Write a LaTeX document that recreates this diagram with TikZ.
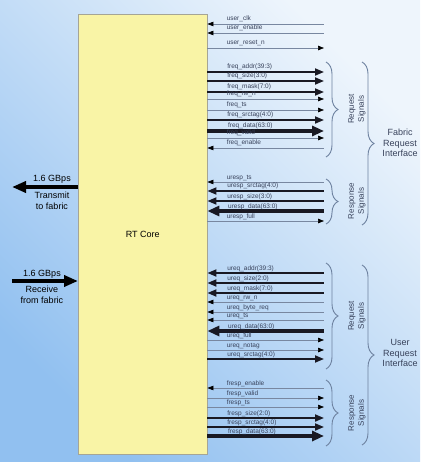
\documentclass[tikz,border=0pt]{standalone}
\usepackage{fontspec}
\setmainfont{Liberation Sans}
\usetikzlibrary{arrows.meta,decorations.pathreplacing}

\begin{document}
\begin{tikzpicture}[x=1pt,y=-1pt,
    lab/.style={font=\fontsize{6.5}{7}\selectfont, text=labtext, anchor=base west, inner sep=0pt, xshift=19pt, yshift=3pt},
    linein/.style={draw=sigcol, line width=0.7pt, {Triangle[length=6pt,width=4.5pt,color=black]}-},
    lineout/.style={draw=sigcol, line width=0.7pt, -{Triangle[length=6pt,width=4.5pt,color=black]}},
    busin/.style={draw=buscol, line width=1.8pt, {Triangle[length=9pt,width=7pt]}-},
    busout/.style={draw=buscol, line width=1.8pt, -{Triangle[length=9pt,width=7pt]}},
    widein/.style={draw=buscol, line width=3.5pt, {Triangle[length=12pt,width=10pt]}-},
    wideout/.style={draw=buscol, line width=3.5pt, -{Triangle[length=12pt,width=10pt]}},
    bigarrow/.style={draw=black, line width=4pt, -{Triangle[length=14pt,width=11pt]}},
    grp/.style={draw=bracecol, line width=0.9pt, decorate, decoration={brace, amplitude=12pt}},
    grplab/.style={font=\fontsize{8}{10}\selectfont, text=labtext, align=center, rotate=90},
    ifclab/.style={font=\fontsize{9}{10.5}\selectfont, text=labtext, align=center},
    sidelab/.style={font=\fontsize{9}{10.5}\selectfont, align=center, inner sep=0pt}]
        \definecolor{corefill}{RGB}{249,244,166}
        \definecolor{coreline}{RGB}{165,165,150}
        \definecolor{sigcol}{RGB}{120,135,160}
        \definecolor{buscol}{RGB}{25,25,35}
        \definecolor{labtext}{RGB}{55,65,90}
        \definecolor{bracecol}{RGB}{110,130,160}
        \definecolor{bgtop}{RGB}{238,245,252}
        \definecolor{bgmid}{RGB}{170,206,243}
        \definecolor{bgbot}{RGB}{145,192,240}

        % Background
        \useasboundingbox (0,0) rectangle (420,462);
        \shade[top color=bgtop, middle color=bgmid, bottom color=bgbot, shading angle=-45] (0,0) rectangle (420,462);

        % Core
        \node[draw=coreline, fill=corefill, anchor=north west, minimum width=129pt, minimum height=440pt,
              font=\fontsize{9}{10}\selectfont] (core) at (78,14) {RT Core};

        % Coordinates
        \coordinate (uclk) at (324,24);
        \coordinate (uen) at (324,33);
        \coordinate (urst) at (324,48);
        \coordinate (fqaddr) at (324,72);
        \coordinate (fqsize) at (324,81);
        \coordinate (fqmask) at (324,92);
        \coordinate (fqrw) at (324,99);
        \coordinate (fqts) at (324,110);
        \coordinate (fqtag) at (324,120);
        \coordinate (fqdata) at (324,131);
        \coordinate (fqvalid) at (324,138);
        \coordinate (fqen) at (324,148);
        \coordinate (urts) at (324,182);
        \coordinate (urtag) at (324,191);
        \coordinate (ursize) at (324,201);
        \coordinate (urdata) at (324,211);
        \coordinate (urfull) at (324,221);
        \coordinate (uqaddr) at (324,273);
        \coordinate (uqsize) at (324,283);
        \coordinate (uqmask) at (324,293);
        \coordinate (uqrw) at (324,302);
        \coordinate (uqbyte) at (324,312);
        \coordinate (uqts) at (324,320);
        \coordinate (uqdata) at (324,331);
        \coordinate (uqfull) at (324,340);
        \coordinate (uqnotag) at (324,350);
        \coordinate (uqtag) at (324,359);
        \coordinate (fren) at (324,388);
        \coordinate (frvalid) at (324,398);
        \coordinate (frts) at (324,407);
        \coordinate (frsize) at (324,418);
        \coordinate (frtag) at (324,427);
        \coordinate (frdata) at (324,436);
        \coordinate (tx) at (12,187);
        \coordinate (rx) at (12,281);

        % Signals
        \draw[linein] (core.east |- uclk) -- (uclk) node[lab, pos=0] (l-uclk) {user\_clk};
        \draw[linein] (core.east |- uen) -- (uen) node[lab, pos=0] (l-uen) {user\_enable};
        \draw[lineout] (core.east |- urst) -- (urst) node[lab, pos=0] (l-urst) {user\_reset\_n};

        \draw[busout] (core.east |- fqaddr) -- (fqaddr) node[lab, pos=0] (l-fqaddr) {freq\_addr(39:3)};
        \draw[busout] (core.east |- fqsize) -- (fqsize) node[lab, pos=0] (l-fqsize) {freq\_size(3:0)};
        \draw[busout] (core.east |- fqmask) -- (fqmask) node[lab, pos=0] (l-fqmask) {freq\_mask(7:0)};
        \draw[lineout] (core.east |- fqrw) -- (fqrw) node[lab, pos=0] (l-fqrw) {freq\_rw\_n};
        \draw[lineout] (core.east |- fqts) -- (fqts) node[lab, pos=0] (l-fqts) {freq\_ts};
        \draw[busout] (core.east |- fqtag) -- (fqtag) node[lab, pos=0] (l-fqtag) {freq\_srctag(4:0)};
        \draw[wideout] (core.east |- fqdata) -- (fqdata) node[lab, pos=0] (l-fqdata) {freq\_data(63:0)};
        \draw[lineout] (core.east |- fqvalid) -- (fqvalid) node[lab, pos=0] (l-fqvalid) {freq\_valid};
        \draw[linein] (core.east |- fqen) -- (fqen) node[lab, pos=0] (l-fqen) {freq\_enable};

        \draw[linein] (core.east |- urts) -- (urts) node[lab, pos=0] (l-urts) {uresp\_ts};
        \draw[busin] (core.east |- urtag) -- (urtag) node[lab, pos=0] (l-urtag) {uresp\_srctag(4:0)};
        \draw[busin] (core.east |- ursize) -- (ursize) node[lab, pos=0] (l-ursize) {uresp\_size(3:0)};
        \draw[widein] (core.east |- urdata) -- (urdata) node[lab, pos=0] (l-urdata) {uresp\_data(63:0)};
        \draw[lineout] (core.east |- urfull) -- (urfull) node[lab, pos=0] (l-urfull) {uresp\_full};

        \draw[busin] (core.east |- uqaddr) -- (uqaddr) node[lab, pos=0] (l-uqaddr) {ureq\_addr(39:3)};
        \draw[busin] (core.east |- uqsize) -- (uqsize) node[lab, pos=0] (l-uqsize) {ureq\_size(2:0)};
        \draw[busin] (core.east |- uqmask) -- (uqmask) node[lab, pos=0] (l-uqmask) {ureq\_mask(7:0)};
        \draw[linein] (core.east |- uqrw) -- (uqrw) node[lab, pos=0] (l-uqrw) {ureq\_rw\_n};
        \draw[linein] (core.east |- uqbyte) -- (uqbyte) node[lab, pos=0] (l-uqbyte) {ureq\_byte\_req};
        \draw[linein] (core.east |- uqts) -- (uqts) node[lab, pos=0] (l-uqts) {ureq\_ts};
        \draw[widein] (core.east |- uqdata) -- (uqdata) node[lab, pos=0] (l-uqdata) {ureq\_data(63:0)};
        \draw[lineout] (core.east |- uqfull) -- (uqfull) node[lab, pos=0] (l-uqfull) {ureq\_full};
        \draw[lineout] (core.east |- uqnotag) -- (uqnotag) node[lab, pos=0] (l-uqnotag) {ureq\_notag};
        \draw[busout] (core.east |- uqtag) -- (uqtag) node[lab, pos=0] (l-uqtag) {ureq\_srctag(4:0)};

        \draw[linein] (core.east |- fren) -- (fren) node[lab, pos=0] (l-fren) {fresp\_enable};
        \draw[lineout] (core.east |- frvalid) -- (frvalid) node[lab, pos=0] (l-frvalid) {fresp\_valid};
        \draw[lineout] (core.east |- frts) -- (frts) node[lab, pos=0] (l-frts) {fresp\_ts};
        \draw[busout] (core.east |- frsize) -- (frsize) node[lab, pos=0] (l-frsize) {fresp\_size(2:0)};
        \draw[busout] (core.east |- frtag) -- (frtag) node[lab, pos=0] (l-frtag) {fresp\_srctag(4:0)};
        \draw[wideout] (core.east |- frdata) -- (frdata) node[lab, pos=0] (l-frdata) {fresp\_data(63:0)};

        % Fabric link
        \draw[bigarrow] (core.west |- tx) -- (tx);
        \draw[bigarrow] (rx) -- (core.west |- rx);
        \node[sidelab] (txrate) at (52,179.5) {1.6 GBps};
        \node[sidelab] (txtext) at (52,201) {Transmit\\to fabric};
        \node[sidelab] (rxrate) at (42,274.5) {1.6 GBps};
        \node[sidelab] (rxtext) at (42,295) {Receive\\from fabric};

        % Groups
        \draw[grp] (326,62) -- (326,157);
        \draw[grp] (326,179) -- (326,224);
        \draw[grp] (362,62) -- (362,225);
        \draw[grp] (326,263) -- (326,369);
        \draw[grp] (326,380) -- (326,446);
        \draw[grp] (362,265) -- (362,445);
        \node[grplab] (fqgrp) at (357,109) {Request\\Signals};
        \node[grplab] (urgrp) at (357,201) {Response\\Signals};
        \node[grplab] (uqgrp) at (357,316) {Request\\Signals};
        \node[grplab] (frgrp) at (357,413) {Response\\Signals};
        \node[ifclab] (fabric) at (400,143) {Fabric\\Request\\Interface};
        \node[ifclab] (user) at (400,353) {User\\Request\\Interface};
    \end{tikzpicture}
\end{document}
